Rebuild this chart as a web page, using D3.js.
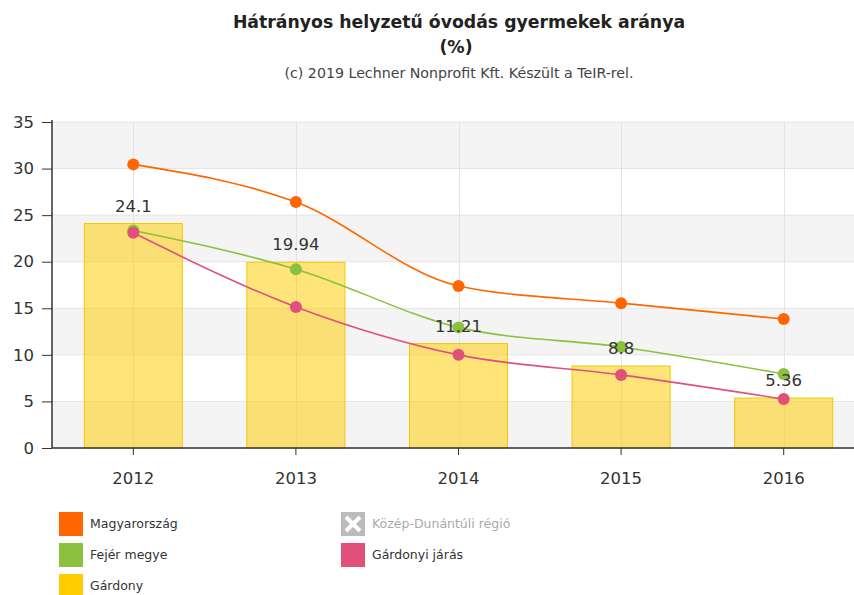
<!DOCTYPE html>
<html>
<head>
<meta charset="utf-8">
<script src="https://cdn.jsdelivr.net/npm/d3@7/dist/d3.min.js"></script>
<style>
  html, body { margin: 0; padding: 0; background: #fff; }
  svg { display: block; font-family: "DejaVu Sans", Verdana, sans-serif; }
</style>
</head>
<body>
<svg id="chart" width="854" height="595"></svg>
<script>
// Years on the x axis
const years = ["2012", "2013", "2014", "2015", "2016"];
// Gárdony (bars, labelled)
const gardony = [24.1, 19.94, 11.21, 8.8, 5.36];
// Line series
const magyarorszag = [30.45, 26.4, 17.4, 15.55, 13.85];
const fejerMegye = [23.35, 19.2, 12.95, 10.85, 7.95];
const gardonyiJaras = [23.1, 15.15, 10.0, 7.85, 5.25];
// Y axis ticks
const yTicks = [0, 5, 10, 15, 20, 25, 30, 35];

const colors = {
  magyar: "#ff6600",
  fejer: "#8cc03f",
  gardony: "#ffcc00",
  jaras: "#e0507a",
  regio: "#bbbbbb"
};

const svg = d3.select("#chart");
const W = 854, H = 595;
const plot = { left: 52, right: 865, top: 122, bottom: 448 };

const x = d3.scaleBand().domain(years).range([plot.left, plot.right]);
const y = d3.scaleLinear().domain([0, 35]).range([plot.bottom, plot.top]);
const cx = d => x(d) + x.bandwidth() / 2;

// Title block
const titleX = 459;
svg.append("text").attr("x", titleX).attr("y", 28).attr("text-anchor", "middle")
  .attr("font-size", 17.3).attr("font-weight", "bold").attr("fill", "#222")
  .text("Hátrányos helyzetű óvodás gyermekek aránya");
svg.append("text").attr("x", titleX - 3).attr("y", 53).attr("text-anchor", "middle")
  .attr("font-size", 17.3).attr("font-weight", "bold").attr("fill", "#222")
  .text("(%)");
svg.append("text").attr("x", titleX).attr("y", 78).attr("text-anchor", "middle")
  .attr("font-size", 14.2).attr("fill", "#444")
  .text("(c) 2019 Lechner Nonprofit Kft. Készült a TeIR-rel.");

svg.append("defs").append("clipPath").attr("id", "clipW")
  .append("rect").attr("x", 0).attr("y", 0).attr("width", W).attr("height", H);

const g = svg.append("g").attr("clip-path", "url(#clipW)");

// Alternating horizontal bands
const bandPairs = d3.range(0, 35, 5);
g.append("g").selectAll("rect").data(bandPairs).join("rect")
  .attr("x", plot.left).attr("width", plot.right - plot.left)
  .attr("y", d => y(d + 5)).attr("height", d => y(d) - y(d + 5))
  .attr("fill", (d, i) => i % 2 === 0 ? "#f4f4f4" : "#ffffff");

// Horizontal gridlines
g.append("g").selectAll("line").data(yTicks).join("line")
  .attr("x1", plot.left).attr("x2", plot.right)
  .attr("y1", d => y(d)).attr("y2", d => y(d))
  .attr("stroke", "#e4e4e4").attr("stroke-width", 1);

// Vertical gridlines at category centres
g.append("g").selectAll("line").data(years).join("line")
  .attr("x1", d => Math.round(cx(d)) + 0.5).attr("x2", d => Math.round(cx(d)) + 0.5)
  .attr("y1", plot.top).attr("y2", plot.bottom)
  .attr("stroke", "#e4e4e4").attr("stroke-width", 1);

// Bars
const barW = 98;
g.append("g").selectAll("rect").data(years).join("rect")
  .attr("x", d => cx(d) - barW / 2).attr("width", barW)
  .attr("y", (d, i) => y(gardony[i])).attr("height", (d, i) => plot.bottom - y(gardony[i]))
  .attr("fill", colors.gardony).attr("fill-opacity", 0.52)
  .attr("stroke", "#f0c800").attr("stroke-width", 1);

// Line series
const series = [
  { values: magyarorszag, color: colors.magyar },
  { values: fejerMegye, color: colors.fejer },
  { values: gardonyiJaras, color: colors.jaras }
];
const line = d3.line().x(d => d[0]).y(d => d[1]).curve(d3.curveMonotoneX);
series.forEach(s => {
  const pts = years.map((yr, i) => [cx(yr), y(s.values[i])]);
  g.append("path").attr("d", line(pts)).attr("fill", "none")
    .attr("stroke", s.color).attr("stroke-width", 1.6);
});
series.forEach(s => {
  g.append("g").selectAll("circle").data(years).join("circle")
    .attr("cx", d => cx(d)).attr("cy", (d, i) => y(s.values[i]))
    .attr("r", 6).attr("fill", s.color);
});

// Bar value labels
g.append("g").selectAll("text").data(years).join("text")
  .attr("x", d => cx(d)).attr("y", (d, i) => y(gardony[i]) - 12)
  .attr("text-anchor", "middle").attr("font-size", 16.5).attr("fill", "#333")
  .text((d, i) => String(gardony[i]));

// Axes
const yAxis = d3.axisLeft(y).tickValues(yTicks).tickSize(10).tickPadding(8);
const ya = svg.append("g").attr("transform", `translate(${plot.left},0)`).call(yAxis);
ya.select(".domain").attr("stroke", "#333").attr("stroke-width", 1.5)
  .attr("d", `M0,${plot.top - 2}V${plot.bottom}`);
ya.selectAll(".tick line").attr("stroke", "#333");
ya.selectAll(".tick text").attr("font-size", 16.5).attr("fill", "#333")
  .attr("font-family", "DejaVu Sans, sans-serif");

const xAxis = d3.axisBottom(x).tickSize(7).tickPadding(17);
const xa = svg.append("g").attr("transform", `translate(0,${plot.bottom})`).call(xAxis);
xa.select(".domain").attr("stroke", "#333").attr("stroke-width", 1.5)
  .attr("d", `M${plot.left},0H${W}`);
xa.selectAll(".tick line").attr("stroke", "#333");
xa.selectAll(".tick text").attr("font-size", 16.5).attr("fill", "#333")
  .attr("font-family", "DejaVu Sans, sans-serif");

// Legend
const legendItems = [
  { name: "Magyarország", color: colors.magyar, col: 0, row: 0 },
  { name: "Fejér megye", color: colors.fejer, col: 0, row: 1 },
  { name: "Gárdony", color: colors.gardony, col: 0, row: 2 },
  { name: "Közép-Dunántúli régió", color: colors.regio, col: 1, row: 0, hidden: true },
  { name: "Gárdonyi járás", color: colors.jaras, col: 1, row: 1 }
];
const lg = svg.append("g");
legendItems.forEach(it => {
  const lx = it.col === 0 ? 59 : 341;
  const ly = 512 + it.row * 31;
  lg.append("rect").attr("x", lx).attr("y", ly).attr("width", 24).attr("height", 24)
    .attr("fill", it.color);
  if (it.hidden) {
    lg.append("path")
      .attr("d", `M${lx + 5},${ly + 5}L${lx + 19},${ly + 19}M${lx + 19},${ly + 5}L${lx + 5},${ly + 19}`)
      .attr("stroke", "#fff").attr("stroke-width", 4);
  }
  lg.append("text").attr("x", lx + 31).attr("y", ly + 16)
    .attr("font-size", 12.5).attr("fill", it.hidden ? "#aaa" : "#333")
    .text(it.name);
});
</script>
</body>
</html>
